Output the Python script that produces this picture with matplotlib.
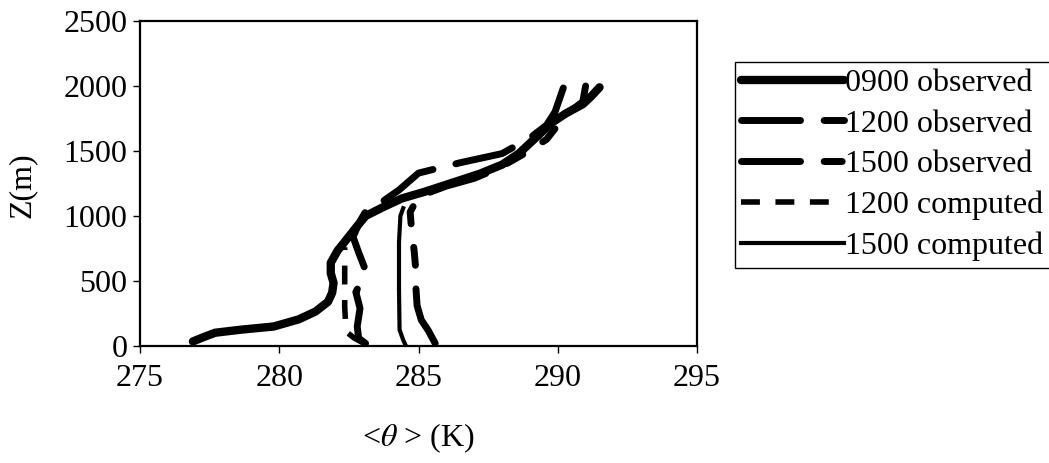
import matplotlib.pyplot as plt

plt.rcParams["font.family"] = ["Liberation Serif", "DejaVu Serif"]
plt.rcParams["mathtext.fontset"] = "stix"

# potential temperature profiles, theta (K) against height z (m)
theta_0900_obs = [276.9, 277.3, 277.7, 278.6, 279.8, 280.7, 281.3, 281.75, 281.9, 281.95,
                  281.85, 281.85, 282.1, 282.4, 282.75, 283.1, 283.7, 284.4, 285.2, 286.2,
                  287.2, 288.0, 288.6, 289.2, 289.8, 290.3, 290.9, 291.2, 291.5]
z_0900_obs = [35, 70, 102, 125, 150, 205, 265, 340, 410, 485,
              560, 640, 735, 815, 910, 1000, 1065, 1135, 1185, 1255,
              1325, 1395, 1480, 1600, 1720, 1790, 1860, 1920, 1990]

theta_1200_obs = [283.1, 282.85, 282.8, 282.9, 282.75, 283.0, 283.05, 282.85, 282.65,
                  282.9, 283.2, 283.7, 284.3, 285.0, 286.5, 288.0, 289.0, 289.6, 289.9, 290.2]
z_1200_obs = [20, 60, 150, 290, 415, 520, 610, 720, 840,
              960, 1070, 1110, 1200, 1330, 1410, 1480, 1600, 1700, 1800, 1985]

theta_1500_obs = [285.6, 285.35, 285.1, 284.95, 284.9, 284.9, 284.85, 284.75, 284.7,
                  285.0, 286.0, 287.0, 287.9, 288.8, 289.6, 290.3, 290.9, 291.0]
z_1500_obs = [20, 120, 200, 310, 470, 590, 720, 900, 1030,
              1150, 1230, 1290, 1370, 1480, 1590, 1780, 1880, 2000]

theta_1200_comp = [283.05, 282.7, 282.4, 282.35, 282.35, 282.35]
z_1200_comp = [20, 60, 110, 300, 600, 760]

theta_1500_comp = [284.55, 284.45, 284.32, 284.3, 284.3, 284.35, 284.45]
z_1500_comp = [0, 46, 125, 430, 800, 1000, 1060]

labels = ["0900 observed", "1200 observed", "1500 observed", "1200 computed", "1500 computed"]

fig = plt.figure(figsize=(10.49, 4.63), dpi=100)
ax = fig.add_axes([140 / 1049, 1 - 346 / 463, 557 / 1049, 325 / 463])

ax.plot(theta_0900_obs, z_0900_obs, color="black", lw=6, solid_capstyle="round",
        solid_joinstyle="round", label=labels[0])
ax.plot(theta_1200_obs, z_1200_obs, color="black", lw=5, dashes=(8.5, 3.4),
        dash_capstyle="round", label=labels[1])
ax.plot(theta_1500_obs, z_1500_obs, color="black", lw=5, dashes=(8.5, 3.4, 2.6, 3.4, 2.6, 3.4),
        dash_capstyle="round", label=labels[2])
ax.plot(theta_1200_comp, z_1200_comp, color="black", lw=4, dashes=(3.4, 2.8),
        label=labels[3])
ax.plot(theta_1500_comp, z_1500_comp, color="black", lw=3, label=labels[4])

ax.set_xlim(275, 295)
ax.set_ylim(0, 2500)
ax.set_xticks(range(275, 296, 5))
ax.set_yticks(range(0, 2501, 500))
ax.tick_params(direction="out", length=5, width=1, labelsize=23)
ax.tick_params(axis="x", pad=8)
ax.tick_params(axis="y", pad=4)
for sp in ax.spines.values():
    sp.set_linewidth(1.6)

fig.text(22 / 1049, 1 - 185 / 463, "Z(m)", rotation=90, ha="center", va="center", fontsize=23)
fig.text(418 / 1049, 1 - 438 / 463, r"<$\theta$ > (K)", ha="center", va="center", fontsize=23)

leg = fig.legend(loc="upper left", bbox_to_anchor=(735 / 1049, 1 - 62 / 463),
                 fontsize=23, handlelength=3.2, handletextpad=0.05, borderpad=0.2,
                 labelspacing=0.36, borderaxespad=0, fancybox=False, framealpha=1,
                 edgecolor="black")
leg.get_frame().set_linewidth(1)

fig.savefig("out.png", dpi=100)
